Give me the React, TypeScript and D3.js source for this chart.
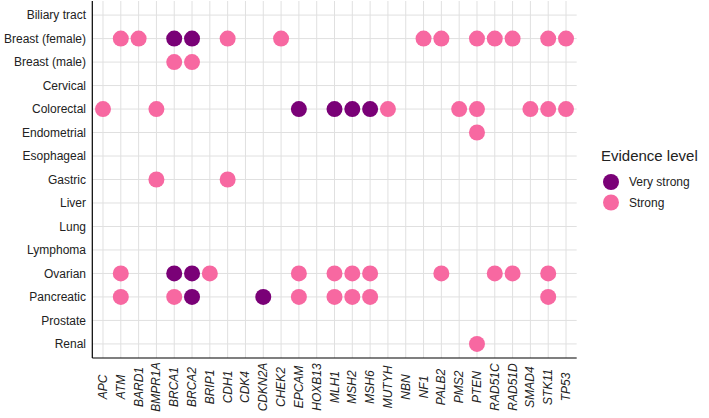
import React from "react";
import * as d3 from "d3";

const cancers = ["Biliary tract","Breast (female)","Breast (male)","Cervical","Colorectal","Endometrial","Esophageal","Gastric","Liver","Lung","Lymphoma","Ovarian","Pancreatic","Prostate","Renal"];
const genes = ["APC","ATM","BARD1","BMPR1A","BRCA1","BRCA2","BRIP1","CDH1","CDK4","CDKN2A","CHEK2","EPCAM","HOXB13","MLH1","MSH2","MSH6","MUTYH","NBN","NF1","PALB2","PMS2","PTEN","RAD51C","RAD51D","SMAD4","STK11","TP53"];
const levels = ["Very strong","Strong"];
const levelColors = ["#7a0177","#f768a1"];

// [cancer, gene, level]
const associations: [string,string,string][] = [
  ["Breast (female)","ATM","Strong"],["Breast (female)","BARD1","Strong"],["Breast (female)","BRCA1","Very strong"],["Breast (female)","BRCA2","Very strong"],["Breast (female)","CDH1","Strong"],["Breast (female)","CHEK2","Strong"],["Breast (female)","NF1","Strong"],["Breast (female)","PALB2","Strong"],["Breast (female)","PTEN","Strong"],["Breast (female)","RAD51C","Strong"],["Breast (female)","RAD51D","Strong"],["Breast (female)","STK11","Strong"],["Breast (female)","TP53","Strong"],
  ["Breast (male)","BRCA1","Strong"],["Breast (male)","BRCA2","Strong"],
  ["Colorectal","APC","Strong"],["Colorectal","BMPR1A","Strong"],["Colorectal","EPCAM","Very strong"],["Colorectal","MLH1","Very strong"],["Colorectal","MSH2","Very strong"],["Colorectal","MSH6","Very strong"],["Colorectal","MUTYH","Strong"],["Colorectal","PMS2","Strong"],["Colorectal","PTEN","Strong"],["Colorectal","SMAD4","Strong"],["Colorectal","STK11","Strong"],["Colorectal","TP53","Strong"],
  ["Endometrial","PTEN","Strong"],
  ["Gastric","BMPR1A","Strong"],["Gastric","CDH1","Strong"],
  ["Ovarian","ATM","Strong"],["Ovarian","BRCA1","Very strong"],["Ovarian","BRCA2","Very strong"],["Ovarian","BRIP1","Strong"],["Ovarian","EPCAM","Strong"],["Ovarian","MLH1","Strong"],["Ovarian","MSH2","Strong"],["Ovarian","MSH6","Strong"],["Ovarian","PALB2","Strong"],["Ovarian","RAD51C","Strong"],["Ovarian","RAD51D","Strong"],["Ovarian","STK11","Strong"],
  ["Pancreatic","ATM","Strong"],["Pancreatic","BRCA1","Strong"],["Pancreatic","BRCA2","Very strong"],["Pancreatic","CDKN2A","Very strong"],["Pancreatic","EPCAM","Strong"],["Pancreatic","MLH1","Strong"],["Pancreatic","MSH2","Strong"],["Pancreatic","MSH6","Strong"],["Pancreatic","STK11","Strong"],
  ["Renal","PTEN","Strong"],
];

export default function App() {
  const W = 709, H = 418;
  const left = 92.3, right = 576.7, top = 1, bottom = 358;
  const x = d3.scalePoint<string>().domain(genes).range([left, right]).padding(0.6);
  const y = d3.scalePoint<string>().domain(cancers).range([top, bottom]).padding(0.6);
  const color = d3.scaleOrdinal<string,string>().domain(levels).range(levelColors);
  const font = "Liberation Sans, Arial, sans-serif";
  return (
    <svg width={W} height={H} style={{ position: "absolute", left: 0, top: 0 }} fontFamily={font}>
      <rect width={W} height={H} fill="#fff" />
      {genes.map(g => (
        <line key={"vx"+g} x1={x(g)} x2={x(g)} y1={top} y2={bottom} stroke="#e0e0e0" strokeWidth={1} />
      ))}
      {cancers.map(c => (
        <line key={"hy"+c} x1={left} x2={right} y1={y(c)} y2={y(c)} stroke="#e0e0e0" strokeWidth={1} />
      ))}
      {associations.map(([c, g, l], i) => (
        <circle key={i} cx={x(g)} cy={y(c)} r={8} fill={color(l)} />
      ))}
      <line x1={left} x2={left} y1={top} y2={bottom} stroke="#000" strokeWidth={1.2} />
      <line x1={left} x2={right} y1={bottom} y2={bottom} stroke="#000" strokeWidth={1.2} />
      {cancers.map(c => (
        <text key={"yl"+c} x={86} y={y(c)} dy="0.35em" textAnchor="end" fontSize={12} fill="#222">{c}</text>
      ))}
      {genes.map(g => (
        <text key={"xl"+g} transform={`translate(${(x(g) as number) + 4},387) rotate(-90)`} textAnchor="middle" fontSize={12} fontStyle="italic" fill="#222">{g}</text>
      ))}
      <text x={601} y={161} fontSize={15} fill="#222">Evidence level</text>
      {levels.map((l, i) => (
        <g key={l}>
          <circle cx={611} cy={182 + i * 20.5} r={8} fill={color(l)} />
          <text x={629} y={182 + i * 20.5} dy="0.35em" fontSize={12} fill="#222">{l}</text>
        </g>
      ))}
    </svg>
  );
}
